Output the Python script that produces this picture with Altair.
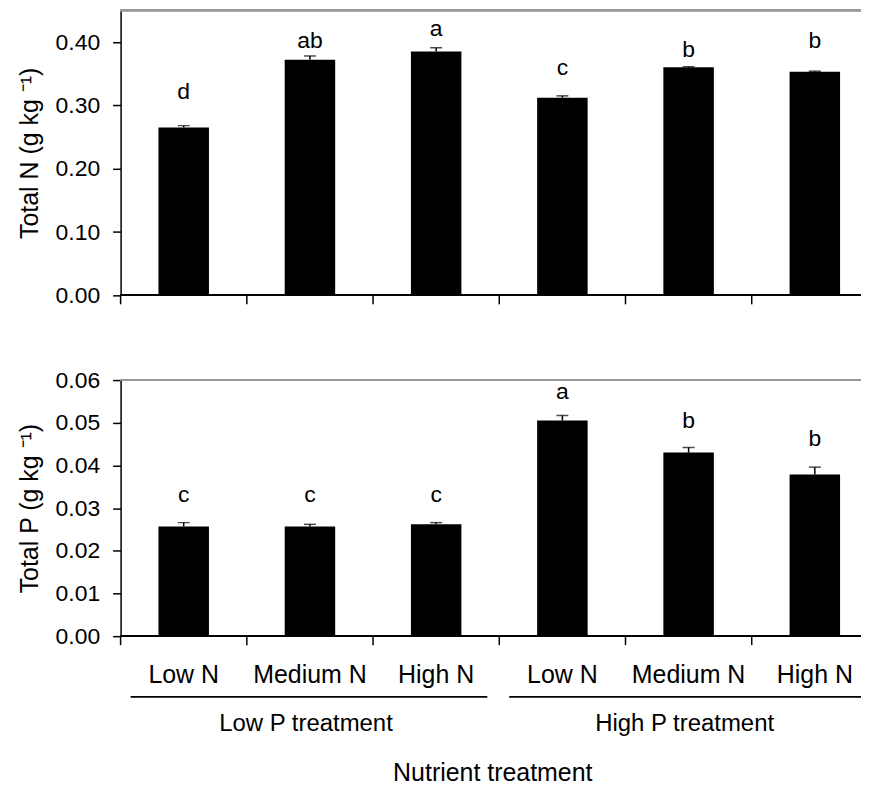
import altair as alt
import pandas as pd

# ---------------- data ----------------
groups = ["Low P treatment"] * 3 + ["High P treatment"] * 3
n_levels = ["Low N", "Medium N", "High N"] * 2

total_n = [0.265, 0.372, 0.385, 0.312, 0.360, 0.353]
total_n_se = [0.003, 0.006, 0.006, 0.003, 0.001, 0.001]
total_n_letters = ["d", "ab", "a", "c", "b", "b"]
total_n_letter_y = [0.310, 0.391, 0.410, 0.348, 0.377, 0.391]

total_p = [0.0257, 0.0257, 0.0262, 0.0505, 0.0430, 0.0379]
total_p_se = [0.0009, 0.0005, 0.0004, 0.0012, 0.0012, 0.0017]
total_p_letters = ["c", "c", "c", "a", "b", "b"]
total_p_letter_y = [0.0314, 0.0314, 0.0314, 0.0555, 0.0487, 0.0445]

n_ticks = [0.0, 0.1, 0.2, 0.3, 0.4]
p_ticks = [0.0, 0.01, 0.02, 0.03, 0.04, 0.05, 0.06]
n_max = 0.45
p_max = 0.06

group_names = ["Low P treatment", "High P treatment"]

# ---------------- tables ----------------
keys = [f"{g}|{n}" for g, n in zip(groups, n_levels)]


def table(values, se, letters, ly):
    return pd.DataFrame({
        "key": keys,
        "value": values,
        "top": [v + e for v, e in zip(values, se)],
        "letter": letters,
        "ly": ly,
    })


df_n = table(total_n, total_n_se, total_n_letters, total_n_letter_y)
df_p = table(total_p, total_p_se, total_p_letters, total_p_letter_y)
df_g = pd.DataFrame({
    "name": group_names,
    "first": [keys[0], keys[3]],
    "mid": [keys[1], keys[4]],
    "last": [keys[2], keys[5]],
})

FONT = "Liberation Sans"
W = 760          # full plot width (runs on past the page edge, as in the original)
H1 = 286
H2 = 257

xscale = alt.Scale(domain=keys, paddingInner=0, paddingOuter=0)


def x_axis(show_labels, title=None):
    return alt.Axis(
        title=title,
        labels=show_labels,
        labelExpr="split(datum.label, '|')[1]",
        labelAngle=0,
        labelFontSize=25,
        labelPadding=27,
        labelColor="black",
        ticks=False,
        tickSize=0,
        domain=False,
        grid=False,
        titleFontSize=25,
        titleFontWeight="normal",
        titlePadding=73,
        titleX=373,
    )


def y_axis(title, ticks):
    return alt.Axis(
        title=title,
        values=ticks,
        format=".2f",
        labelFontSize=23,
        labelPadding=13,
        tickSize=8,
        tickColor="black",
        tickWidth=1.5,
        domainColor="black",
        domainWidth=1.5,
        grid=False,
        titleFontSize=25,
        titleFontWeight="normal",
        titlePadding=13,
    )


def panel(df, ytitle, ticks, ymax, height, show_labels, xtitle=None, extra=()):
    yscale = alt.Scale(domain=[0, ymax], nice=False)

    def X(field, **kw):
        return alt.X(f"{field}:N", scale=xscale, sort=keys,
                     axis=x_axis(show_labels, xtitle), **kw)

    base = alt.Chart(df)
    bars = base.mark_bar(color="black", width=alt.RelativeBandSize(0.4)).encode(
        x=X("key"),
        y=alt.Y("value:Q", scale=yscale, axis=y_axis(ytitle, ticks)),
    )
    stems = base.mark_rule(color="black", strokeWidth=1.5).encode(
        x=X("key"),
        y=alt.Y("value:Q", scale=yscale),
        y2="top:Q",
    )
    caps = base.mark_tick(color="black", size=12, thickness=1.5).encode(
        x=X("key"),
        y=alt.Y("top:Q", scale=yscale),
    )
    letters = base.mark_text(
        font=FONT, fontSize=23, baseline="alphabetic", color="black"
    ).encode(
        x=X("key"),
        y=alt.Y("ly:Q", scale=yscale),
        text="letter:N",
    )
    # x-axis tick marks on the band boundaries
    xticks = base.mark_rule(color="black", strokeWidth=1.5).encode(
        x=X("key", bandPosition=0),
        y=alt.value(height),
        y2=alt.value(height + 9),
    )
    # x-axis line and grey top frame line
    axis_line = base.mark_rule(color="black", strokeWidth=1.5).encode(
        x=alt.value(0), x2=alt.value(W), y=alt.datum(0, scale=yscale)
    )
    top_line = base.mark_rule(color="#999999", strokeWidth=2).encode(
        x=alt.value(0), x2=alt.value(W), y=alt.datum(ymax, scale=yscale)
    )
    layers = [bars, stems, caps, letters, xticks, axis_line, top_line]
    for make in extra:
        layers.append(make(X))
    return alt.layer(*layers).properties(width=W, height=height)


def group_lines(X):
    return alt.Chart(df_g).mark_rule(
        color="black", strokeWidth=1.8, xOffset=10, x2Offset=-12
    ).encode(
        x=X("first", bandPosition=0),
        x2=alt.X2("last:N", bandPosition=1),
        y=alt.value(318),
    )


def group_text(X):
    return alt.Chart(df_g).mark_text(
        font=FONT, fontSize=24, baseline="alphabetic", color="black", dx=-4
    ).encode(
        x=X("mid"),
        y=alt.value(352),
        text="name:N",
    )


top = panel(df_n, "Total N (g kg \u207b\u00b9)", n_ticks, n_max, H1, False)
bottom = panel(df_p, "Total P (g kg \u207b\u00b9)", p_ticks, p_max, H2, True,
               "Nutrient treatment", extra=(group_lines, group_text))

chart = (
    alt.vconcat(top, bottom, spacing=62)
    .properties(padding={"left": 9, "top": 0, "right": -18, "bottom": 0})
    .configure(font=FONT)
    .configure_view(stroke=None)
    .configure_axis(labelFont=FONT, titleFont=FONT, labelColor="black",
                    titleColor="black")
)

chart.save("out.html", embed_options={"renderer": "svg", "actions": False})
